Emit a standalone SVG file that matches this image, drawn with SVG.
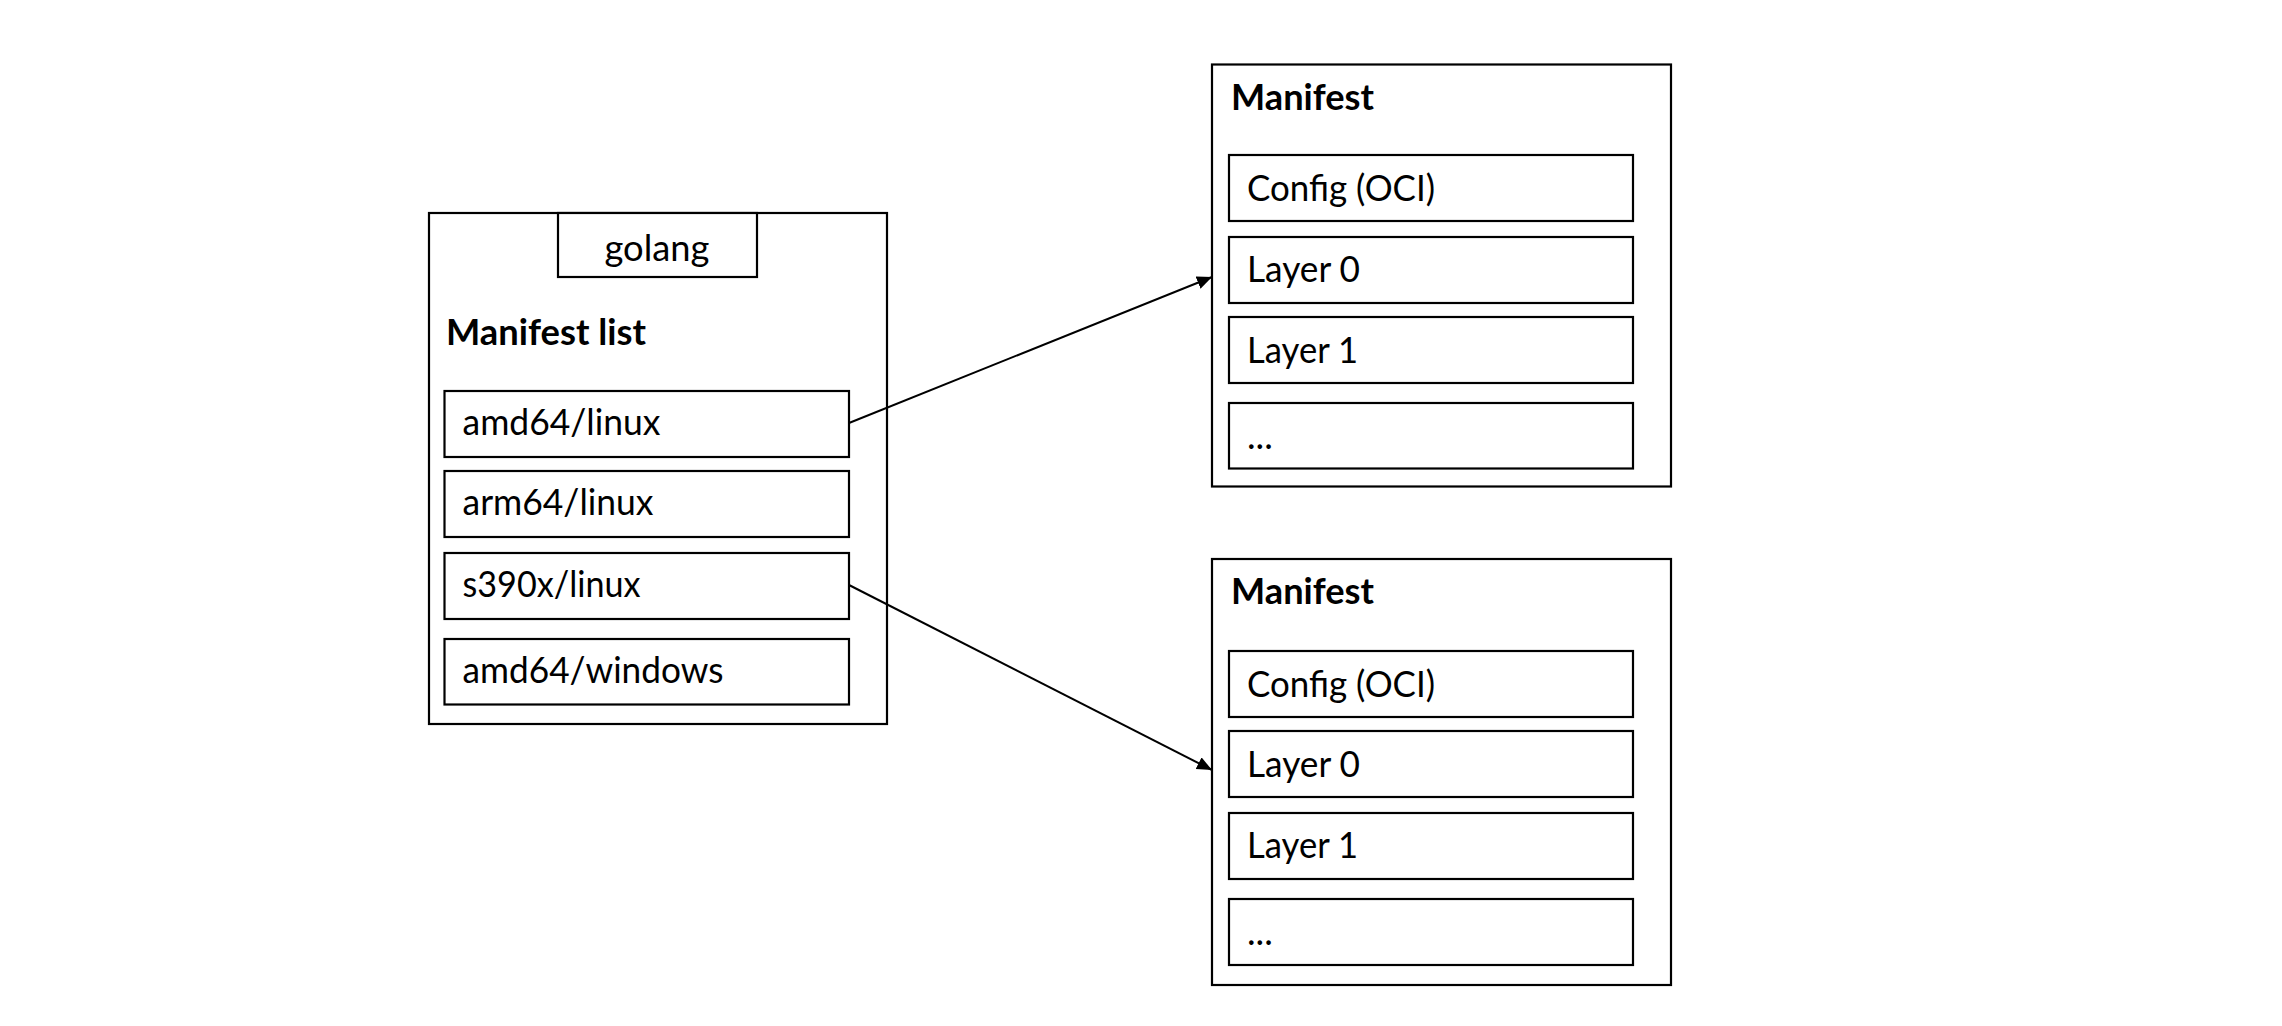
<svg xmlns="http://www.w3.org/2000/svg" width="2282" height="1026" viewBox="0 0 2282 1026">
<style>
.box{fill:#fff;stroke:#000;stroke-width:2.2}
.t{font-family:Lato,"Liberation Sans",sans-serif;font-size:36.5px;fill:#000}
.b{font-weight:bold}
.con{stroke:#000;stroke-width:2;fill:none}
</style>
<defs>
<marker id="arr" markerUnits="userSpaceOnUse" markerWidth="16" markerHeight="14" refX="15" refY="6.5" orient="auto">
<path d="M0,0 L15,6.5 L0,13 Z" fill="#000"/>
</marker>
</defs>
<rect width="2282" height="1026" fill="#fff"/>
<g id="manifest-list">
<rect class="box" x="429" y="213" width="458" height="511"/>
<g id="golang">
<rect class="box" x="558" y="213" width="199" height="64"/>
<text class="t" x="657" y="261" text-anchor="middle" textLength="105" lengthAdjust="spacingAndGlyphs">golang</text>
</g>
<text class="t b" x="446" y="345" textLength="200" lengthAdjust="spacingAndGlyphs">Manifest list</text>
<g id="amd64-linux"><rect class="box" x="444.5" y="391" width="404.5" height="66"/><text class="t" x="462.5" y="435" textLength="198" lengthAdjust="spacingAndGlyphs">amd64/linux</text></g>
<g id="arm64-linux"><rect class="box" x="444.5" y="471" width="404.5" height="66"/><text class="t" x="462.5" y="515" textLength="191" lengthAdjust="spacingAndGlyphs">arm64/linux</text></g>
<g id="s390x-linux"><rect class="box" x="444.5" y="553" width="404.5" height="66"/><text class="t" x="462.5" y="597" textLength="178" lengthAdjust="spacingAndGlyphs">s390x/linux</text></g>
<g id="amd64-windows"><rect class="box" x="444.5" y="639" width="404.5" height="65.5"/><text class="t" x="462.5" y="683" textLength="261" lengthAdjust="spacingAndGlyphs">amd64/windows</text></g>
</g>
<g id="manifest-1">
<rect class="box" x="1212" y="64.5" width="459" height="422"/>
<text class="t b" x="1231" y="110" textLength="143" lengthAdjust="spacingAndGlyphs">Manifest</text>
<g id="m1-config"><rect class="box" x="1229" y="155" width="404" height="66"/><text class="t" x="1247" y="201" textLength="188" lengthAdjust="spacingAndGlyphs">Config (OCI)</text></g>
<g id="m1-layer0"><rect class="box" x="1229" y="237" width="404" height="66"/><text class="t" x="1247" y="282" textLength="113" lengthAdjust="spacingAndGlyphs">Layer 0</text></g>
<g id="m1-layer1"><rect class="box" x="1229" y="317" width="404" height="66"/><text class="t" x="1247" y="363" textLength="111" lengthAdjust="spacingAndGlyphs">Layer 1</text></g>
<g id="m1-more"><rect class="box" x="1229" y="403" width="404" height="65.5"/><text class="t" x="1247" y="449">...</text></g>
</g>
<g id="manifest-2">
<rect class="box" x="1212" y="559" width="459" height="426"/>
<text class="t b" x="1231" y="604" textLength="143" lengthAdjust="spacingAndGlyphs">Manifest</text>
<g id="m2-config"><rect class="box" x="1229" y="651" width="404" height="66"/><text class="t" x="1247" y="697" textLength="188" lengthAdjust="spacingAndGlyphs">Config (OCI)</text></g>
<g id="m2-layer0"><rect class="box" x="1229" y="731" width="404" height="66"/><text class="t" x="1247" y="777" textLength="113" lengthAdjust="spacingAndGlyphs">Layer 0</text></g>
<g id="m2-layer1"><rect class="box" x="1229" y="813" width="404" height="66"/><text class="t" x="1247" y="858" textLength="111" lengthAdjust="spacingAndGlyphs">Layer 1</text></g>
<g id="m2-more"><rect class="box" x="1229" y="899" width="404" height="66"/><text class="t" x="1247" y="945">...</text></g>
</g>
<g id="connectors">
<line class="con" x1="849" y1="423" x2="1212" y2="277" marker-end="url(#arr)"/>
<line class="con" x1="849" y1="585" x2="1212" y2="770" marker-end="url(#arr)"/>
</g>
</svg>
